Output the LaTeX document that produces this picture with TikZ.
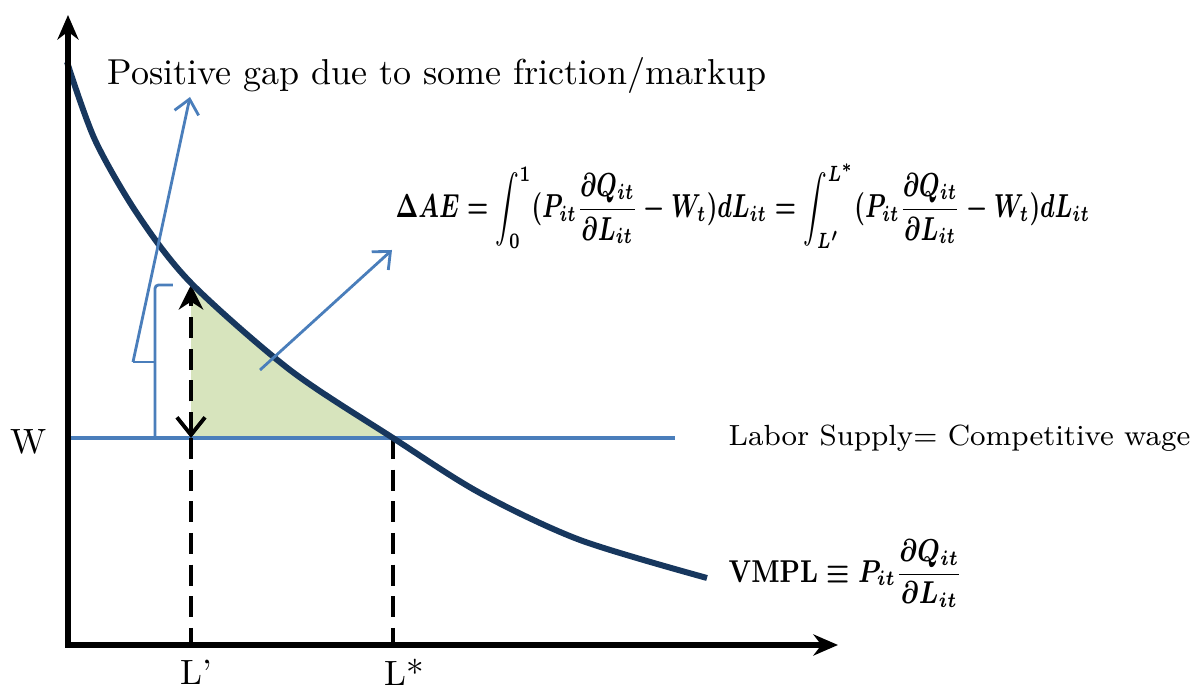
\documentclass[tikz,border=0pt]{standalone}
\usepackage{amsmath}
\usepackage{graphicx}
\usetikzlibrary{arrows.meta}
\definecolor{curvenavy}{HTML}{17375E}
\definecolor{lineblue}{HTML}{4A7EBB}
\definecolor{gapgreen}{HTML}{D7E4BD}
\newcommand{\mpl}{P_{it}\frac{\partial Q_{it}\mathstrut}{\mathstrut\partial L_{it}}}
\newcommand{\gapformula}{\Delta AE=\int_0^1(\mpl-W_t)dL_{it}=\int_{L^{\prime}}^{L^{*}}(\mpl-W_t)dL_{it}}
\newsavebox{\daebox}
\newsavebox{\vmplbox}
\begin{document}
\sbox{\daebox}{\scalebox{0.73}[1.05]{\fontsize{9}{11}\selectfont\boldmath$\displaystyle\gapformula$}}%
\sbox{\vmplbox}{\scalebox{0.8}[1]{\fontsize{9}{11}\selectfont\boldmath$\mathbf{VMPL}\equiv\displaystyle\mpl$}}%
\begin{tikzpicture}[>=Stealth,
  axis/.style={line width=1.5pt, {Stealth[length=7pt,width=6pt]}-{Stealth[length=7pt,width=6pt]}},
  blueline/.style={lineblue, line width=0.8pt},
  bluearrow/.style={blueline, -{Straight Barb[length=4pt,width=7pt]}},
  guide/.style={line width=1.1pt, dash pattern=on 6pt off 3pt},
  lbl/.style={font=\fontsize{10}{12}\selectfont, inner sep=0pt}]
  \useasboundingbox (0,0) rectangle (11.91,6.90);

  % axes corner, wage level, L' and L*
  \coordinate (O) at (0.68,0.45);
  \coordinate (Ytop) at (0.68,6.75);
  \coordinate (Xend) at (8.38,0.45);
  \coordinate (W0) at (0.68,2.52);
  \coordinate (W1) at (6.75,2.52);
  \coordinate (Lp) at (1.91,0.45);
  \coordinate (Ls) at (3.93,0.45);
  \coordinate (LpW) at (1.91,2.52);
  \coordinate (LsW) at (3.93,2.52);
  \coordinate (LpC) at (1.91,4.05);

  % shaded gap between VMPL and W
  \begin{scope}
    \clip (LpW) rectangle (3.93,6.50);
    \fill[gapgreen] plot[smooth] coordinates {(0.67,6.28) (0.95,5.50) (1.38,4.75) (1.91,4.07)
      (2.90,3.20) (3.93,2.52) (4.80,1.97) (5.80,1.50) (7.07,1.12)} -- (7.07,2.52) -- (W0) -- cycle;
  \end{scope}

  % labor supply line
  \draw[lineblue, line width=0.9pt] (W0) -- (W1);

  % dashed guides
  \draw[guide] (LpW) -- (Lp);
  \draw[guide] (LsW) -- (Ls);
  \draw[guide, {Straight Barb[length=5pt,width=8pt]}-{Stealth[length=7pt,width=7pt]}] (LpW) -- (LpC);

  % VMPL curve
  \draw[curvenavy, line width=1.7pt] plot[smooth] coordinates {(0.67,6.28) (0.95,5.50) (1.38,4.75) (1.91,4.07)
    (2.90,3.20) (3.93,2.52) (4.80,1.97) (5.80,1.50) (7.07,1.12)};

  % axes
  \draw[axis] (Ytop) -- (O) -- (Xend);

  % bracket and pointers
  \coordinate (BrM) at (1.33,3.28);
  \coordinate (GapTip) at (1.90,5.93);
  \coordinate (AreaIn) at (2.60,3.20);
  \coordinate (AreaTip) at (3.92,4.40);
  \draw[blueline, rounded corners=1pt] (1.73,4.05) -- (1.55,4.05) -- (1.55,2.52);
  \draw[blueline] (1.55,3.28) -- (BrM);
  \draw[bluearrow] (BrM) -- (GapTip);
  \draw[bluearrow] (AreaIn) -- (AreaTip);

  % labels
  \node[lbl, anchor=base west, font=\fontsize{10.25}{12}\selectfont] (gaptext) at (1.07,6.05) {Positive gap due to some friction/markup};
  \node[lbl, anchor=west] (dae) at (3.95,4.84) {\usebox{\daebox}};
  \node[lbl, anchor=west, font=\fontsize{8.3}{10}\selectfont] (supply) at (7.28,2.52) {Labor Supply= Competitive wage};
  \node[lbl, anchor=west] (vmpl) at (7.28,1.15) {\usebox{\vmplbox}};
  \node[lbl] (wlab) at (0.29,2.48) {W};
  \node[lbl] (lplab) at (1.96,0.18) {L\textquoteright};
  \node[lbl] (lslab) at (4.04,0.18) {L*};
\end{tikzpicture}
\end{document}
